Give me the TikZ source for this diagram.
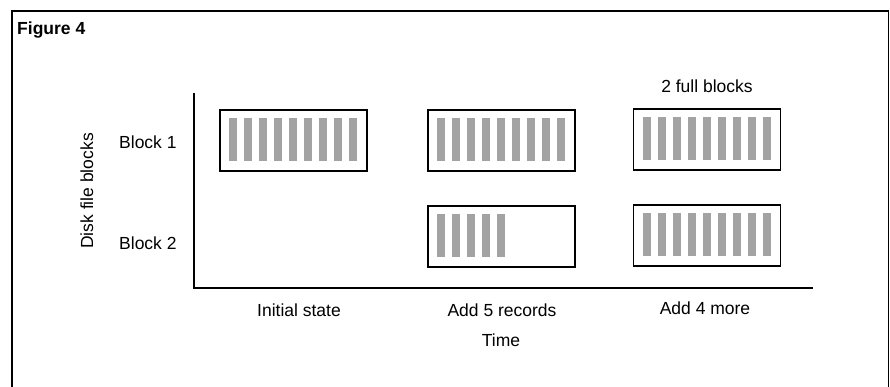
\documentclass[tikz,border=0pt]{standalone}
\usepackage{fontspec}
\setmainfont{Liberation Sans}
\usetikzlibrary{calc}
\begin{document}
\begin{tikzpicture}[x=1pt,y=-1pt,
  lbl/.style={inner sep=0pt, font=\fontsize{17.5}{20}\selectfont},
  blockbox/.style={draw=black, line width=1.8pt, inner sep=0pt,
    minimum width=147pt, minimum height=61pt},
  stripe/.style={fill=black!36},
  axis/.style={line width=1.8pt},
  frame/.style={line width=1.4pt}]
\useasboundingbox (0,0) rectangle (890,387);

% open frame round the figure
\draw[frame] (12,387) -- (12,11) -- (888.5,11) -- (888.5,387);
\node[lbl, anchor=base west, font=\fontsize{17.5}{20}\selectfont\bfseries] (title) at (17,35) {Figure 4};

% axes
\coordinate (ytop) at (194,93);
\coordinate (origin) at (194,288);
\coordinate (xend) at (813,288);
\draw[axis] (ytop) -- (origin) -- (xend);

% axis labels
\node[lbl, rotate=90, anchor=base] (ylab) at (93,191) {Disk file blocks};
\node[lbl, anchor=base west] (row1) at (119,149) {Block 1};
\node[lbl, anchor=base west] (row2) at (119,249) {Block 2};
\node[lbl, anchor=base] (col1) at (299,316) {Initial state};
\node[lbl, anchor=base] (col2) at (502,316) {Add 5 records};
\node[lbl, anchor=base] (col3) at (705,314) {Add 4 more};
\node[lbl, anchor=base] (xlab) at (501,346) {Time};
\node[lbl, anchor=base] (full) at (707,93) {2 full blocks};

% disk blocks
\node[blockbox] (b1i) at (293.5,140.5) {};
\node[blockbox] (b1a) at (501.5,140.5) {};
\node[blockbox] (b1b) at (707,139.5) {};
\node[blockbox] (b2a) at (501.5,236.5) {};
\node[blockbox] (b2b) at (707,235.5) {};

% records stored in each block
\foreach \blk/\n in {b1i/8, b1a/8, b1b/8, b2b/8, b2a/4}
  \foreach \k in {0,...,\n}
    \fill[stripe] ($(\blk.north west)+({10+15*\k},9)$) rectangle ++(8,43);
\end{tikzpicture}
\end{document}
